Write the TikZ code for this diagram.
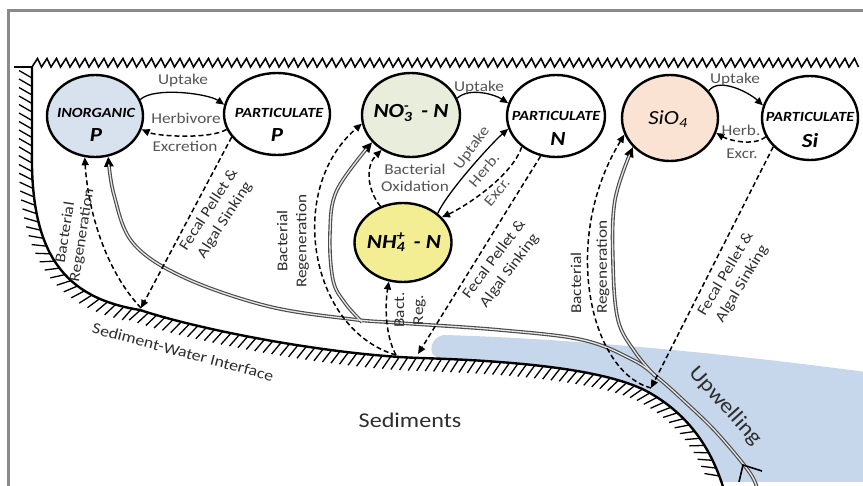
\documentclass[tikz,border=0pt]{standalone}
\usepackage{fontspec}
\setmainfont{Carlito}[FakeStretch=1.15]
\usetikzlibrary{arrows.meta,shapes.geometric,decorations.pathreplacing,decorations.pathmorphing}

\definecolor{framegray}{HTML}{8A8A8A}
\definecolor{labgray}{HTML}{555555}
\definecolor{labdark}{HTML}{2E2E2E}
\definecolor{upblue}{HTML}{C6D6EB}
\definecolor{inPfill}{HTML}{D8E1EE}
\definecolor{no3fill}{HTML}{E8EEDB}
\definecolor{nh4fill}{HTML}{F3EE93}
\definecolor{siofill}{HTML}{FAE3D3}
\definecolor{dblgray}{HTML}{4A4A4A}
\definecolor{dblin}{HTML}{E6E6E6}

\tikzset{
  pool/.style={ellipse, draw, line width=2.4pt, inner sep=0pt},
  smallbi/.style={font=\fontsize{14}{15}\selectfont\bfseries\itshape, inner sep=0pt},
  bigbi/.style={font=\fontsize{20}{21}\selectfont\bfseries\itshape, inner sep=0pt},
  midbi/.style={font=\fontsize{20}{21}\selectfont\bfseries\itshape, inner sep=0pt},
  midit/.style={font=\fontsize{20}{21}\selectfont\itshape, inner sep=0pt},
  glabel/.style={text=labgray, font=\fontsize{15}{17}\selectfont, inner sep=0pt, align=center},
  rlabel/.style={text=labdark, font=\fontsize{15}{19}\selectfont, inner sep=0pt, align=center},
  solidarr/.style={line width=1.3pt, -{Triangle[length=8pt,width=7pt]}},
  dasharr/.style={line width=1.5pt, dash pattern=on 5pt off 3pt, -{Triangle[length=8pt,width=7pt]}},
  dblouter/.style={line width=3.6pt, draw=dblgray, -{Triangle[length=10pt,width=9pt,color=black]}},
  dblinner/.style={line width=1.3pt, draw=dblin, shorten >=10pt},
  hatchline/.style={line width=1.3pt, decorate,
    decoration={border, segment length=8.5pt, amplitude=15pt, angle=240}},
}

% sediment-water interface (wall + sea floor)
\def\bnd{(32,67) -- (32,150) .. controls (30,255) and (65,298) .. (140,310)
  .. controls (200,330) and (330,355) .. (420,358)
  .. controls (520,361) and (610,370) .. (650,393)
  .. controls (690,416) and (712,450) .. (724,490)}
\def\bndhatch{(32,78) -- (32,150) .. controls (30,255) and (65,298) .. (140,310)
  .. controls (200,330) and (330,355) .. (420,358)
  .. controls (520,361) and (610,370) .. (650,393)
  .. controls (690,416) and (712,450) .. (724,490)}
% main upwelling flow, from the shelf up to the inorganic P pool
\def\mainflow{plot[smooth, tension=0.6] coordinates {(758,492) (750,473) (717,433) (683,400)
  (657,377) (633,360) (583,340) (500,330) (400,323) (350,319) (267,306) (183,277)
  (133,243) (114,195) (inP.-72)}}
\def\nobranch{plot[smooth, tension=0.6] coordinates {(362,322) (345,303) (333,280)
  (330,233) (337,190) (no3.215)}}
\def\sibranch{plot[smooth, tension=0.6] coordinates {(655,376) (635,352) (618,320)
  (613,263) (615,200) (sio4.218)}}

\begin{document}
\begin{tikzpicture}[x=1pt,y=-1pt]
\useasboundingbox (0,0) rectangle (863,486);
\begin{scope}
\clip (0,0) rectangle (863,486);

% frame
\draw[framegray, line width=3pt] (8.5,490) -- (8.5,11) -- (866,11);

% upwelling water mass
\fill[upblue] (437,357) .. controls (428,356) and (429,336) .. (445,335)
  .. controls (550,338) and (700,350) .. (866,372) -- (866,482) -- (500,482) -- (437,380) -- cycle;

% sediments
\fill[white] \bnd -- (14,490) -- (14,67) -- cycle;
\draw[hatchline] \bndhatch;
\draw[line width=2.4pt] \bnd;

% sea surface
\draw[line width=1.6pt, line join=miter] (14,67) -- (32,67)
  \foreach \i in {0,...,86} { -- ({37.5+9.5*\i},58.5) -- ({41.5+9.5*\i},67) };

% pools
\node[pool, fill=inPfill, minimum width=96pt, minimum height=82pt] (inP) at (95,116) {};
\node[pool, fill=white, minimum width=106pt, minimum height=82pt] (partP) at (277,114) {};
\node[pool, fill=no3fill, minimum width=98pt, minimum height=84pt] (no3) at (411,115) {};
\node[pool, fill=white, minimum width=98pt, minimum height=82pt] (partN) at (556,116) {};
\node[pool, fill=nh4fill, minimum width=97pt, minimum height=79pt] (nh4) at (403,242.5) {};
\node[pool, fill=siofill, minimum width=96pt, minimum height=86pt] (sio4) at (670,118) {};
\node[pool, fill=white, minimum width=96pt, minimum height=84pt] (partSi) at (810,118) {};

% pool names
\node[smallbi] (inPa) at (96,113) {INORGANIC};
\node[bigbi] (inPb) at (96,135) {P};
\node[smallbi] (partPa) at (279,113) {PARTICULATE};
\node[bigbi] (partPb) at (277,135) {P};
\node[midbi] (no3t) at (411,113) {NO\rlap{\textsuperscript{-}}\textsubscript{3}\, - N};
\node[smallbi] (partNa) at (556,116) {PARTICULATE};
\node[bigbi] (partNb) at (558,139) {N};
\node[midbi] (nh4t) at (404,242) {NH\rlap{\textsuperscript{+}}\textsubscript{4}\, - N};
\node[midit] (siot) at (668,119) {SiO\textsubscript{4}};
\node[smallbi] (partSia) at (810,117) {PARTICULATE};
\node[bigbi] (partSib) at (810,141) {Si};

% end points on the sea floor
\coordinate (pSed) at (141,308);
\coordinate (nSedA) at (396,355);
\coordinate (nSedB) at (418,354);
\coordinate (siSed) at (651,388);
\coordinate (upTip) at (743,465);

% upwelling double lines
\draw[dblouter] \mainflow;
\draw[dblouter] \nobranch;
\draw[dblouter] \sibranch;
\draw[dblinner] \mainflow;
\draw[dblinner] \nobranch;
\draw[dblinner] \sibranch;
\draw[line width=1.6pt] (762,471) -- (upTip) -- (739,482);

% phosphorus cycle
\draw[solidarr] (inP.20) .. controls +(14,-13) and +(-16,-11) .. (partP.170);
\draw[dasharr] (partP.197) .. controls +(-16,10) and +(16,7) .. (inP.-16);
\draw[dasharr] (partP.207) -- (pSed);
\draw[dasharr] (pSed) .. controls (105,270) and (88,210) .. (inP.256);

% nitrogen cycle
\draw[solidarr] (no3.20) .. controls +(12,-11) and +(-14,-9) .. (partN.165);
\draw[solidarr] (nh4.40) .. controls +(10,-22) and +(-16,14) .. (partN.195);
\draw[dasharr] (partN.222) .. controls +(-10,30) and +(22,-10) .. (nh4.33);
\draw[dasharr] (nh4.122) .. controls (366,188) and (366,165) .. (no3.230);
\draw[dasharr] (nSedA) .. controls (310,330) and (285,190) .. (no3.190);
\draw[dasharr] (nSedA) .. controls (385,335) and (385,305) .. (nh4.250);
\draw[dasharr] (partN.249) -- (nSedB);

% silica cycle
\draw[solidarr] (sio4.35) .. controls +(10,-14) and +(-14,-13) .. (partSi.165);
\draw[dasharr] (partSi.203) .. controls +(-12,10) and +(12,7) .. (sio4.-18);
\draw[dasharr] (partSi.218) -- (siSed);
\draw[dasharr] (siSed) .. controls (590,372) and (560,240) .. (sio4.200);

% process labels
\node[glabel] (upP) at (183,81) {Uptake};
\node[glabel] (herbP) at (186,118) {Herbivore};
\node[glabel] (excP) at (185,146) {Excretion};
\node[glabel] (upN) at (479,88) {Uptake};
\node[glabel] (oxN) at (415,178) {Bacterial\\Oxidation};
\node[glabel, rotate=54] (upN2) at (472,148) {Uptake};
\node[glabel, rotate=50] (herbN) at (484,170) {Herb.};
\node[glabel, rotate=50] (excN) at (497,192) {Excr.};
\node[glabel] (upSi) at (735,80) {Uptake};
\node[glabel] (herbSi) at (741,130) {Herb.};
\node[glabel] (excSi) at (742,154) {Excr.};

\node[rlabel, rotate=81, font=\fontsize{15}{17}\selectfont] (bactPl) at (74,234) {Bacterial\\Regeneration};
\node[rlabel, rotate=57] (fecPl) at (217,215) {Fecal Pellet \&\\Algal Sinking};
\node[rlabel, rotate=90] (bactNl) at (293,241) {Bacterial\\Regeneration};
\node[rlabel, rotate=90] (bactN2l) at (410,310) {Bact.\\Reg.};
\node[rlabel, rotate=53] (fecNl) at (502,265) {Fecal Pellet \&\\Algal Sinking};
\node[rlabel, rotate=90, anchor=west] (bactSil) at (576,314) {Bacterial};
\node[rlabel, rotate=90, anchor=west] (regSil) at (603,314) {Regeneration};
\node[rlabel, rotate=59] (fecSil) at (734,279) {Fecal Pellet \&\\Algal Sinking};
\node[rlabel, rotate=-15, font=\fontsize{15.5}{17}\selectfont] (swi) at (183,352) {Sediment-Water Interface};
\node[rlabel, font=\fontsize{21}{23}\selectfont] (sedl) at (410,420) {Sediments};
\node[rlabel, rotate=-48, font=\fontsize{21}{23}\selectfont] (upw) at (725,406) {Upwelling};
\end{scope}
\end{tikzpicture}
\end{document}
